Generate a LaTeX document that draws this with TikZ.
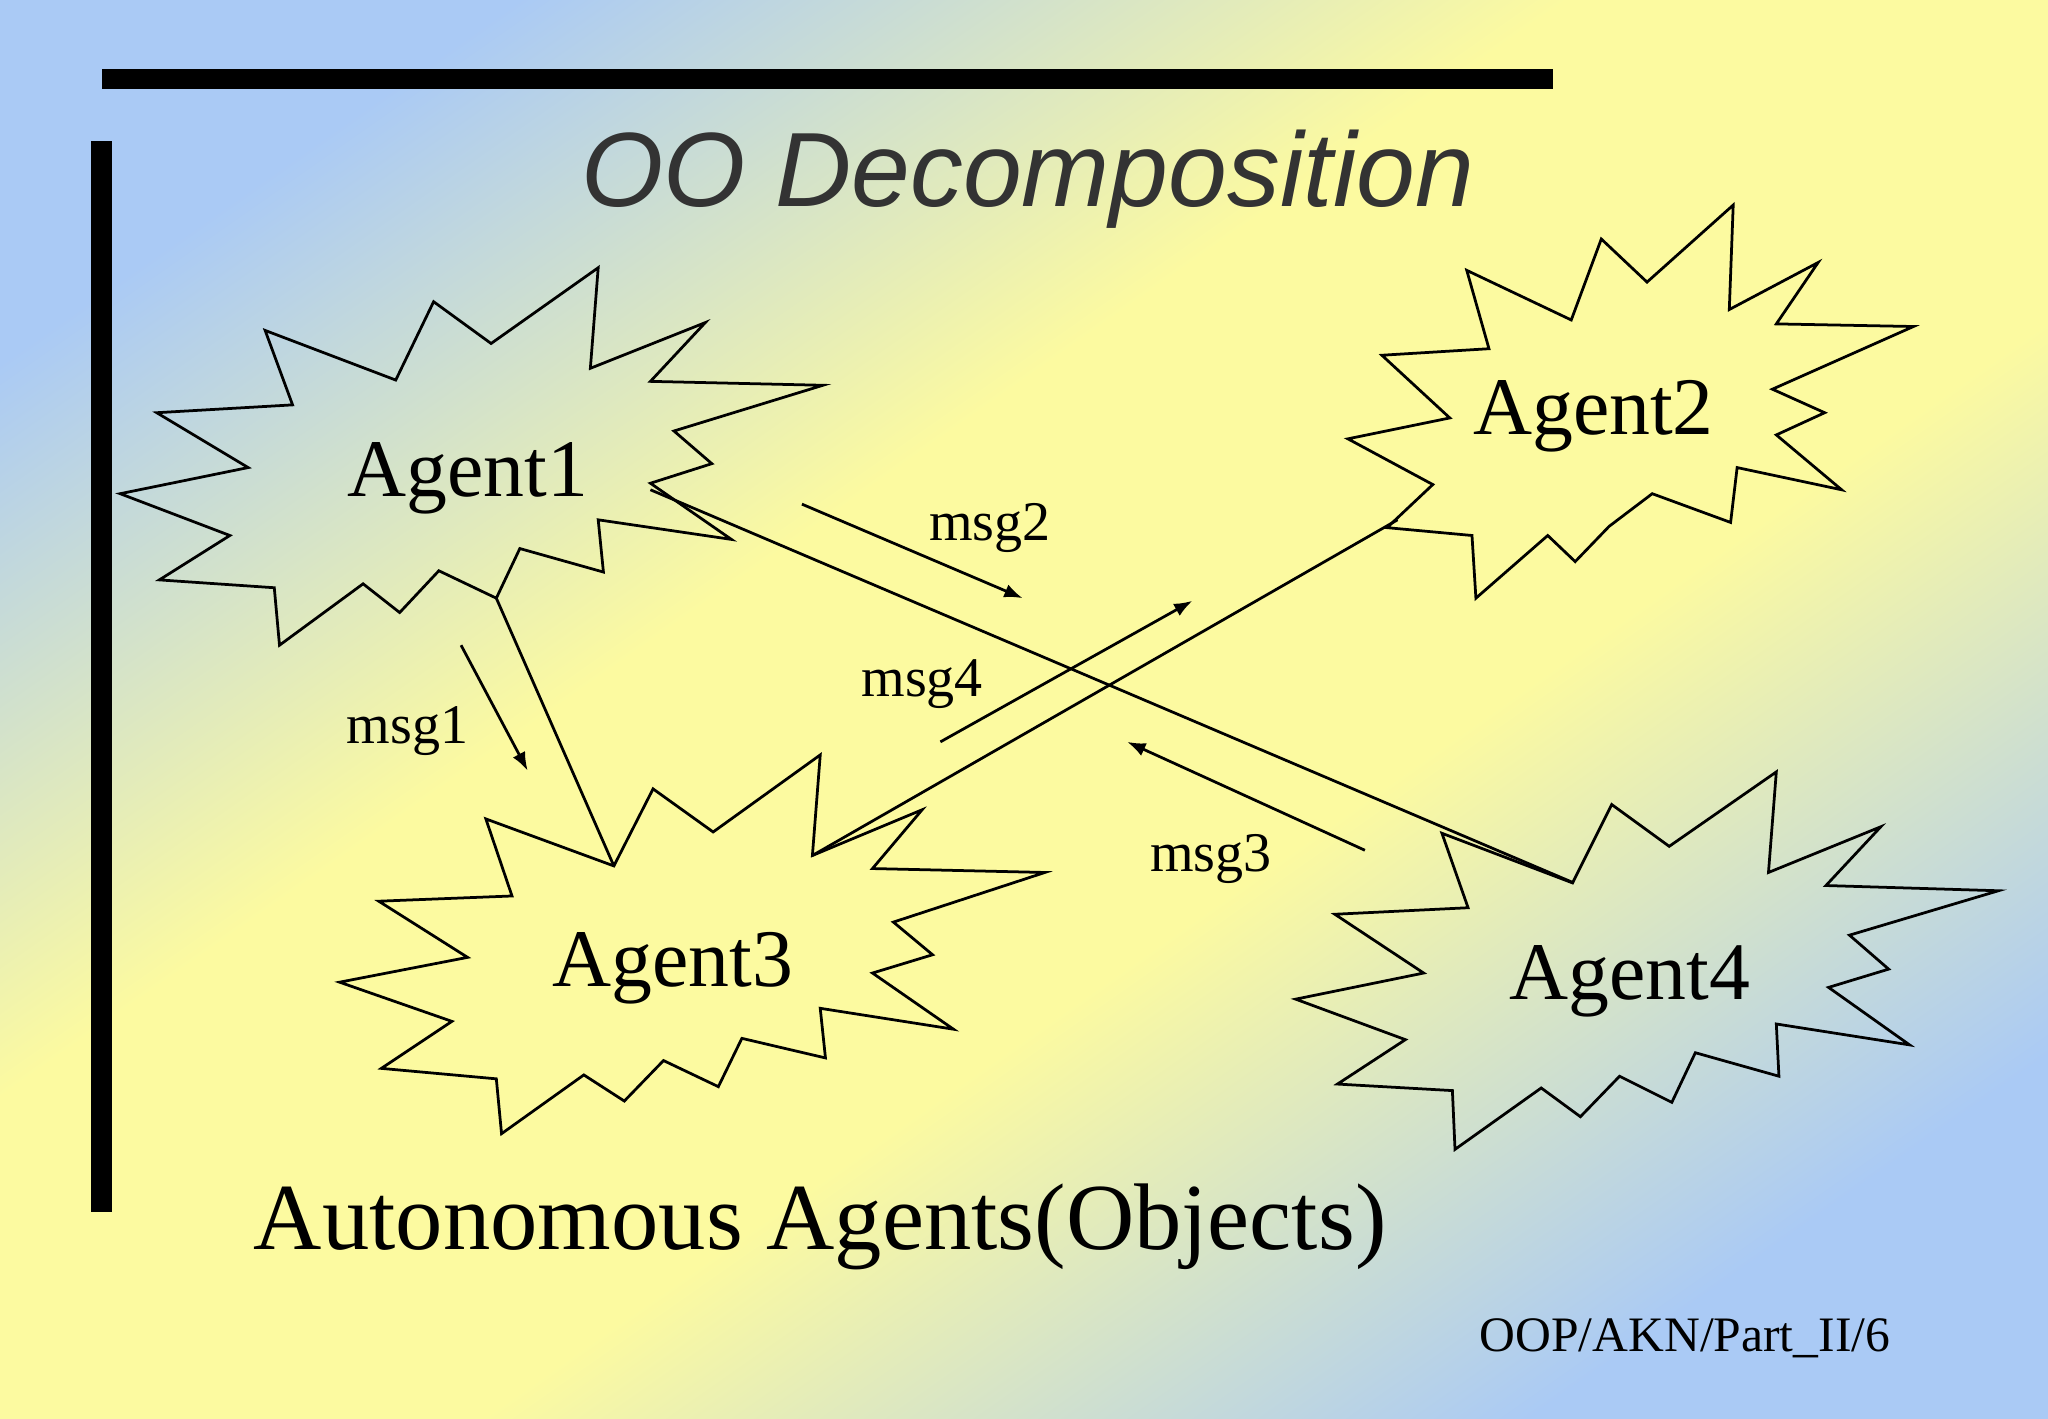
\documentclass[tikz,border=0pt]{standalone}
\usepackage{fontspec}
\setmainfont{Liberation Serif}
\newfontfamily\titlefont{Liberation Sans}
\usetikzlibrary{arrows.meta}
\definecolor{bgblue}{RGB}{170,202,245}
\definecolor{bgyellow}{RGB}{252,250,160}
\pgfdeclarehorizontalshading{bgshade}{100bp}{color(0bp)=(bgblue); color(24bp)=(bgblue); color(42bp)=(bgyellow); color(58bp)=(bgyellow); color(76bp)=(bgblue); color(100bp)=(bgblue)}
\begin{document}
\begin{tikzpicture}[x=0.01cm,y=-0.01cm,
  star/.style={draw=black,line width=0.6pt},
  conn/.style={draw=black,line width=0.6pt},
  msgarrow/.style={draw=black,line width=0.6pt,-{Latex[length=4pt,width=3pt]}},
  agent/.style={font=\fontsize{17.8}{20}\selectfont},
  msglbl/.style={font=\fontsize{12.2}{14}\selectfont}]
\useasboundingbox (0,0) rectangle (1568,1086);
\shade[shading=bgshade,shading angle=-55] (0,0) rectangle (1568,1086);
% bars
\fill (78,53) rectangle (1189,68);
\fill (70,108) rectangle (86,928);
\node (title) at (787,137) {\titlefont\itshape\fontsize{23}{26}\selectfont\color{black!80}OO Decomposition};
% stars
\draw[star] (92,378)--(190,358)--(120,316)--(224,310)--(203,253)--(303,291)--(332,231)--(376,263)--(458,205)--(452,282)--(540,247)--(498,292)--(630,295)--(516,330)--(545,355)--(498,370)--(560,413)--(458,398)--(462,438)--(398,420)--(380,458)--(336,437)--(306,469)--(278,447)--(214,494)--(210,450)--(122,444)--(176,410)--cycle;
\draw[star] (1032,336)--(1110,320)--(1058,272)--(1140,267)--(1123,207)--(1203,245)--(1226,183)--(1261,216)--(1327,157)--(1324,237)--(1392,201)--(1360,248)--(1465,250)--(1357,298)--(1397,316)--(1360,333)--(1410,375)--(1330,358)--(1325,400)--(1265,378)--(1232,403)--(1206,430)--(1185,410)--(1130,458)--(1127,410)--(1062,404)--(1097,371)--cycle;
\draw[star] (260,752)--(358,733)--(290,690)--(392,686)--(372,627)--(470,663)--(500,604)--(546,637)--(628,578)--(622,655)--(706,620)--(668,665)--(800,668)--(684,706)--(714,731)--(668,745)--(730,788)--(628,772)--(632,810)--(568,795)--(550,832)--(508,812)--(478,843)--(447,823)--(384,868)--(380,826)--(292,818)--(346,782)--cycle;
\draw[star] (992,765)--(1090,745)--(1022,700)--(1124,695)--(1104,638)--(1204,676)--(1234,616)--(1278,648)--(1360,591)--(1354,668)--(1440,633)--(1398,678)--(1530,682)--(1416,716)--(1446,742)--(1400,756)--(1462,800)--(1360,784)--(1362,824)--(1298,806)--(1280,844)--(1240,824)--(1210,855)--(1180,833)--(1114,880)--(1112,835)--(1024,830)--(1076,796)--cycle;
\node[agent] (a1) at (358,366) {Agent1};
\node[agent] (a2) at (1220,319) {Agent2};
\node[agent] (a3) at (515,741) {Agent3};
\node[agent] (a4) at (1248,751) {Agent4};
% connection points
\coordinate (p1r) at (498,375);
\coordinate (p1b) at (380,458);
\coordinate (p2) at (1070,398);
\coordinate (p3t) at (470,663);
\coordinate (p3r) at (622,655);
\coordinate (p4) at (1205,676);
\draw[conn] (p1r)--(p4);
\draw[conn] (p1b)--(p3t);
\draw[conn] (p3r)--(p2);
% messages
\coordinate (m1s) at (353,494); \coordinate (m1e) at (404,590);
\coordinate (m2s) at (614,386); \coordinate (m2e) at (783,458);
\coordinate (m4s) at (720,568); \coordinate (m4e) at (913,460);
\coordinate (m3s) at (1045,651); \coordinate (m3e) at (863,568);
\draw[msgarrow] (m1s)--(m1e);
\draw[msgarrow] (m2s)--(m2e);
\draw[msgarrow] (m4s)--(m4e);
\draw[msgarrow] (m3s)--(m3e);
\node[msglbl] (l1) at (312,560) {msg1};
\node[msglbl] (l2) at (758,404) {msg2};
\node[msglbl] (l4) at (706,524) {msg4};
\node[msglbl] (l3) at (927,658) {msg3};
\node[font=\fontsize{20.6}{24}\selectfont] (cap) at (628,939) {Autonomous Agents(Objects)};
\node[font=\fontsize{10.8}{12}\selectfont] (foot) at (1290,1025) {OOP/AKN/Part\_II/6};
\end{tikzpicture}
\end{document}
